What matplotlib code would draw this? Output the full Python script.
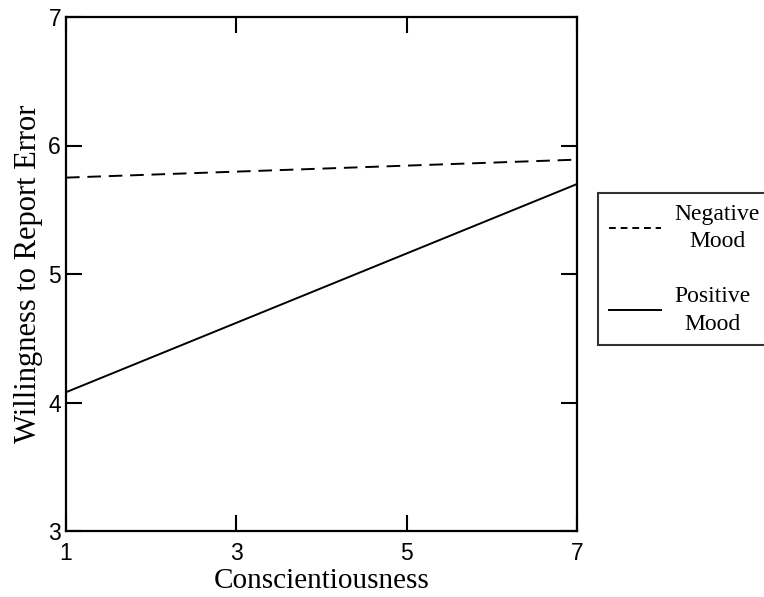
import matplotlib.pyplot as plt
from matplotlib.lines import Line2D

# Conscientiousness at low / high end
conscientiousness = [1, 7]
negative_mood = [5.75, 5.89]
positive_mood = [4.08, 5.70]

x_ticks = [1, 3, 5, 7]
y_ticks = [3, 4, 5, 6, 7]

serif = "Liberation Serif"
plt.rcParams["font.family"] = "Liberation Sans"

fig = plt.figure(figsize=(7.64, 5.97), dpi=100)
ax = fig.add_axes([66 / 764, 66 / 597, 511 / 764, 514 / 597])

ax.plot(conscientiousness, negative_mood, color="black", lw=1.4,
        linestyle=(0, (7, 4)))
ax.plot(conscientiousness, positive_mood, color="black", lw=1.4)

ax.set_xlim(1, 7)
ax.set_ylim(3, 7)
ax.set_xticks(x_ticks)
ax.set_yticks(y_ticks)
for spine in ax.spines.values():
    spine.set_linewidth(1.6)

ax.tick_params(direction="in", length=11.5, width=1.5, top=True, right=True,
               labelsize=16.5)
ax.tick_params(axis="x", pad=8)
ax.tick_params(axis="y", pad=3.6)

ax.set_xlabel("Conscientiousness", family=serif, fontsize=21, labelpad=2)
ax.set_ylabel("Willingness to Report Error", family=serif, fontsize=22,
              labelpad=4)

# Legend box sits outside the axes, partly cut off at the right edge
handles = [
    Line2D([], [], color="black", lw=1.4, linestyle=(0, (3.5, 2.5))),
    Line2D([], [], color="black", lw=1.4),
]
leg = fig.legend(handles, ["Negative\nMood", "Positive\nMood"],
                 loc="upper left", bbox_to_anchor=(598 / 764, 1 - 193 / 597),
                 prop={"family": serif, "size": 17}, frameon=True,
                 fancybox=False, edgecolor="black", handlelength=2.2,
                 handletextpad=0.6, labelspacing=1.45, borderpad=0.45,
                 borderaxespad=0)
leg.get_frame().set_linewidth(1.5)
for t in leg.get_texts():
    t.set_multialignment("center")
    t.set_linespacing(1.4)

fig.savefig("out.png", dpi=100)
plt.close(fig)
